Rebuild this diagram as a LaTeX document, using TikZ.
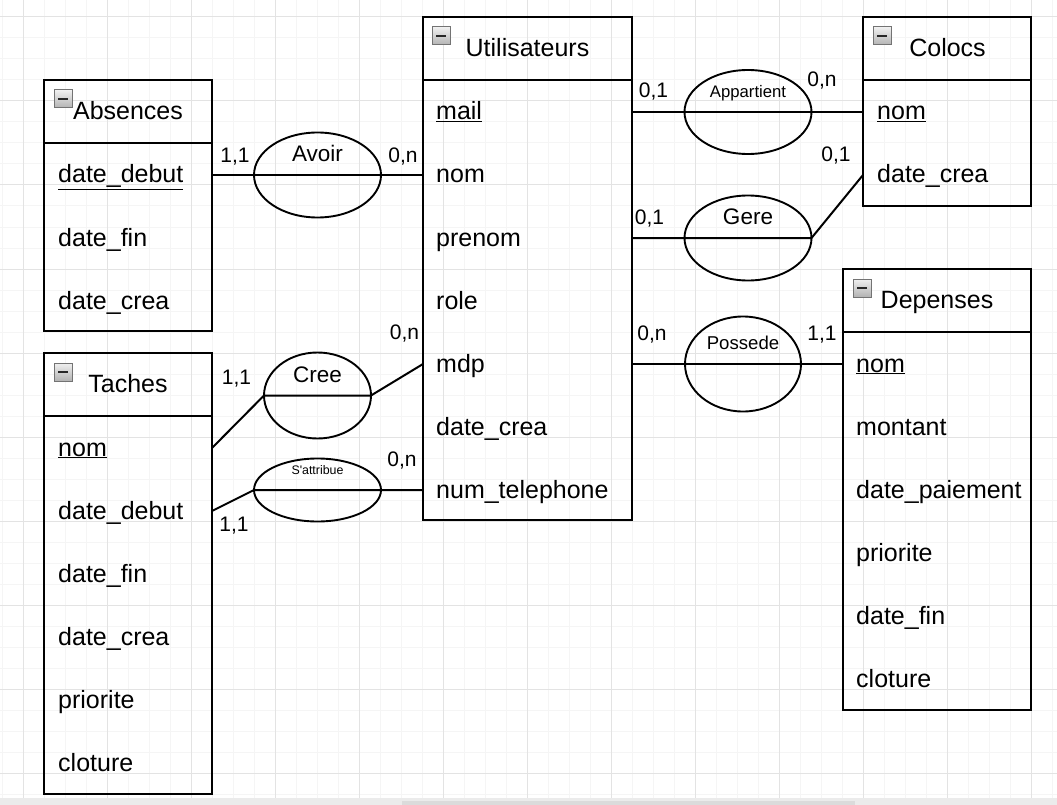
\documentclass[tikz,border=0pt]{standalone}
\usepackage{fontspec}
\setmainfont{Liberation Sans}
\newfontfamily\rawsans{Liberation Sans}
\usetikzlibrary{shapes.geometric}
\newcommand\mnsicon[2]{%
  \shade[top color=black!6,bottom color=black!30] (#1,#2) rectangle +(18,18);
  \draw[black!55,line width=1pt] (#1,#2) rectangle +(18,18);
  \draw[black!85,line width=2pt] ({#1+4},{#2+9}) -- ({#1+14},{#2+9});}
\begin{document}
\begin{tikzpicture}[x=1pt,y=-1pt,
  minorg/.style={draw=black!4,line width=1pt},
  majorg/.style={draw=black!11,line width=1pt},
  ent/.style={draw=black,line width=2pt,anchor=north west,inner sep=0pt,outer sep=0pt},
  ln/.style={draw=black,line width=2pt},
  conn/.style={draw=black,line width=2pt},
  rel/.style={ellipse,draw=black,line width=1.9pt,inner sep=0pt,outer sep=0pt},
  attr/.style={anchor=west,inner sep=0pt,text height=18pt,text depth=2pt,font=\fontsize{25}{30}\selectfont},
  ttl/.style={inner sep=0pt,text height=18pt,text depth=2pt,font=\fontsize{25}{30}\selectfont},
  card/.style={anchor=base,inner sep=0pt,font=\fontsize{21}{25}\selectfont},
  rlbl/.style={anchor=base,inner sep=0pt}]
\useasboundingbox (0,0) rectangle (1057,805);
\fill[white] (0,0) rectangle (1057,805);
% grid
\foreach \i in {0,...,50} \draw[minorg] ({2+21*\i},0) -- ({2+21*\i},798);
\foreach \j in {1,...,38} \draw[minorg] (0,{-4+21*\j}) -- (1057,{-4+21*\j});
\foreach \i in {0,...,12} \draw[majorg] ({23+84*\i},0) -- ({23+84*\i},798);
\foreach \j in {0,...,9} \draw[majorg] (0,{17+84*\j}) -- (1057,{17+84*\j});
% scrollbar strip
\fill[black!8] (0,798) rectangle (1057,805);
\fill[black!14] (402,801) rectangle (855,805);

% ---------- Absences ----------
\node[ent,minimum width=168pt,minimum height=251pt] (abs) at (44,80) {};
\draw[ln] (44,143) -- (212,143);
\mnsicon{54}{90}
\node[ttl] (absT) at (128,111.5) {Absences};
\node[attr] (absdd) at (58,175) {\underline{date\_debut}};
\node[attr] (absdf) at (58,238) {date\_fin};
\node[attr] (absdc) at (58,301) {date\_crea};

% ---------- Utilisateurs ----------
\node[ent,minimum width=209pt,minimum height=503pt] (ut) at (423,17) {};
\draw[ln] (423,80) -- (632,80);
\mnsicon{432}{27}
\node[ttl] (utT) at (527.5,48.5) {Utilisateurs};
\node[attr] (utmail) at (436,112) {\underline{mail}};
\node[attr] (utnom) at (436,175) {nom};
\node[attr] (utpre) at (436,238) {prenom};
\node[attr] (utrole) at (436,301) {role};
\node[attr] (utmdp) at (436,364) {mdp};
\node[attr] (utdc) at (436,427) {date\_crea};
\node[attr] (uttel) at (436,490) {num\_telephone};

% ---------- Colocs ----------
\node[ent,minimum width=168pt,minimum height=189pt] (col) at (863,17) {};
\draw[ln] (863,80) -- (1031,80);
\mnsicon{873}{27}
\node[ttl] (colT) at (947.5,48.5) {Colocs};
\node[attr] (colnom) at (877,112) {\underline{nom}};
\node[attr] (coldc) at (877,175) {date\_crea};

% ---------- Taches ----------
\node[ent,minimum width=168pt,minimum height=441pt] (tac) at (44,353) {};
\draw[ln] (44,416) -- (212,416);
\mnsicon{54}{363}
\node[ttl] (tacT) at (128,384.5) {Taches};
\node[attr] (tacnom) at (58,448) {\underline{nom}};
\node[attr] (tacdd) at (58,511) {date\_debut};
\node[attr] (tacdf) at (58,574) {date\_fin};
\node[attr] (tacdc) at (58,637) {date\_crea};
\node[attr] (tacpr) at (58,700) {priorite};
\node[attr] (taccl) at (58,763) {cloture};

% ---------- Depenses ----------
\node[ent,minimum width=188pt,minimum height=441pt] (dep) at (843,269) {};
\draw[ln] (843,332) -- (1031,332);
\mnsicon{853}{279}
\node[ttl] (depT) at (937,300.5) {Depenses};
\node[attr] (depnom) at (856,364) {\underline{nom}};
\node[attr] (depmt) at (856,427) {montant};
\node[attr] (depdp) at (856,490) {date\_paiement};
\node[attr] (deppr) at (856,553) {priorite};
\node[attr] (depdf) at (856,616) {date\_fin};
\node[attr] (depcl) at (856,679) {cloture};

% ---------- Relations ----------
\node[rel,minimum width=127pt,minimum height=85pt] (avoir) at (317.5,175) {};
\node[rel,minimum width=127pt,minimum height=84pt] (app) at (748,112) {};
\node[rel,minimum width=127pt,minimum height=85pt] (gere) at (748,238) {};
\node[rel,minimum width=116pt,minimum height=95pt] (pos) at (743,364) {};
\node[rel,minimum width=107pt,minimum height=86pt] (cree) at (317.5,395.5) {};
\node[rel,minimum width=127pt,minimum height=63pt] (satt) at (317.5,490) {};

\node[rlbl,font=\fontsize{22.5}{26}\selectfont] (avoirL) at (317.5,161.5) {Avoir};
\node[rlbl,font=\fontsize{16.7}{20}\selectfont] (appL) at (748,97.5) {Appartient};
\node[rlbl,font=\fontsize{22.5}{26}\selectfont] (gereL) at (748,224) {Gere};
\node[rlbl,font=\fontsize{18.6}{22}\selectfont] (posL) at (743,349) {Possede};
\node[rlbl,font=\fontsize{22.5}{26}\selectfont] (creeL) at (317.5,382) {Cree};
\node[rlbl,font=\rawsans\fontsize{12.4}{15}\selectfont] (sattL) at (317.5,474.5) {S\char"27 attribue};

% ---------- Connectors ----------
\draw[conn] (abs.east |- avoir) -- (avoir.west) -- (avoir.east) -- (ut.west |- avoir);
\draw[conn] (ut.east |- app) -- (app.west) -- (app.east) -- (col.west |- app);
\draw[conn] (ut.east |- gere) -- (gere.west) -- (gere.east) -- (col.west |- coldc);
\draw[conn] (ut.east |- pos) -- (pos.west) -- (pos.east) -- (dep.west |- pos);
\draw[conn] (tac.east |- tacnom) -- (cree.west) -- (cree.east) -- (ut.west |- utmdp);
\draw[conn] (tac.east |- tacdd) -- (satt.west) -- (satt.east) -- (ut.west |- uttel);

% ---------- Cardinalities ----------
\node[card] (c1) at (235,162.5) {1,1};
\node[card] (c2) at (403,162.5) {0,n};
\node[card] (c3) at (653.5,98) {0,1};
\node[card] (c4) at (822,86.5) {0,n};
\node[card] (c5) at (649.5,225) {0,1};
\node[card] (c6) at (836,161.5) {0,1};
\node[card] (c7) at (652,340) {0,n};
\node[card] (c8) at (822,340) {1,1};
\node[card] (c9) at (236.5,384) {1,1};
\node[card] (c10) at (404.5,339) {0,n};
\node[card] (c11) at (402,466.5) {0,n};
\node[card] (c12) at (234,531) {1,1};
\end{tikzpicture}
\end{document}
